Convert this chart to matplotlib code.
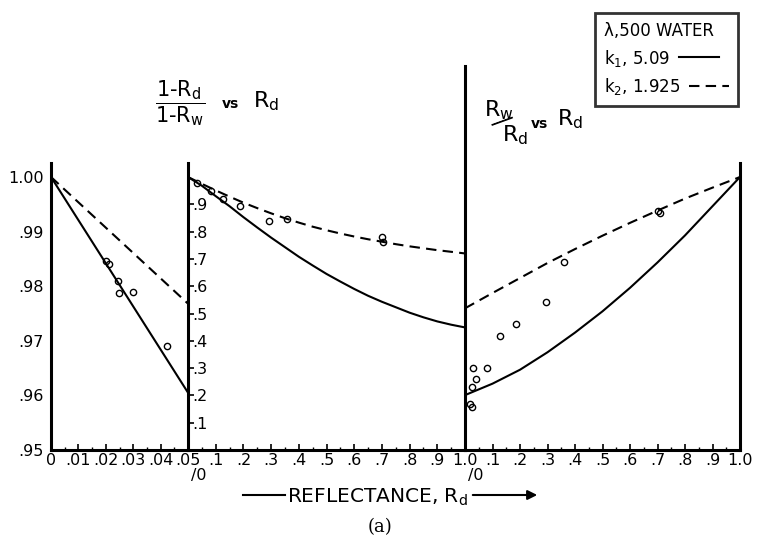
import matplotlib
matplotlib.use('Agg')
import matplotlib.pyplot as plt
from matplotlib.ticker import MultipleLocator

plt.rcParams['font.family'] = 'DejaVu Sans'
plt.rcParams['mathtext.fontset'] = 'dejavusans'

# panel 1: (1-Rd)/(1-Rw) vs Rd, small Rd
p1_x = [0.0, 0.05]
p1_k1 = [1.0, 0.9605]
p1_k2 = [1.0, 0.9768]
p1_pts_x = [0.0201, 0.0212, 0.0245, 0.0248, 0.0299, 0.0423]
p1_pts_y = [0.9846, 0.9841, 0.9810, 0.9788, 0.9789, 0.9690]

# panel 2: (1-Rd)/(1-Rw) vs Rd, full range
p2_x = [0.0, 0.05, 0.1, 0.15, 0.2, 0.25, 0.3, 0.35, 0.4, 0.45, 0.5,
        0.55, 0.6, 0.65, 0.7, 0.75, 0.8, 0.85, 0.9, 0.95, 1.0]
p2_k1 = [1.0, 0.968, 0.930, 0.893, 0.853, 0.815, 0.778, 0.743, 0.708, 0.676, 0.645,
         0.617, 0.590, 0.565, 0.543, 0.523, 0.503, 0.486, 0.471, 0.459, 0.449]
p2_k2 = [1.0, 0.975, 0.951, 0.928, 0.906, 0.886, 0.867, 0.849, 0.833, 0.818, 0.805,
         0.793, 0.782, 0.772, 0.763, 0.754, 0.746, 0.739, 0.732, 0.726, 0.720]
p2_pts_x = [0.031, 0.082, 0.128, 0.188, 0.292, 0.359, 0.699, 0.705]
p2_pts_y = [0.977, 0.949, 0.919, 0.893, 0.840, 0.846, 0.779, 0.763]

# panel 3: Rw/Rd vs Rd
p3_x = [0.0, 0.1, 0.2, 0.3, 0.4, 0.5, 0.6, 0.7, 0.8, 0.9, 1.0]
p3_k1 = [0.201, 0.243, 0.294, 0.358, 0.430, 0.508, 0.594, 0.687, 0.786, 0.893, 1.0]
p3_k2 = [0.519, 0.575, 0.630, 0.685, 0.736, 0.785, 0.832, 0.877, 0.921, 0.961, 1.0]
p3_pts_x = [0.018, 0.025, 0.024, 0.040, 0.030, 0.079, 0.127, 0.185, 0.294, 0.360, 0.703, 0.708]
p3_pts_y = [0.167, 0.159, 0.232, 0.260, 0.300, 0.300, 0.418, 0.460, 0.543, 0.690, 0.877, 0.867]

W, H = 757, 549
fig = plt.figure(figsize=(W / 100, H / 100), dpi=100)


def px_axes(left, top, right, bottom):
    return fig.add_axes([left / W, 1 - bottom / H, (right - left) / W, (bottom - top) / H])


SPINE = 2.2
LW = 1.5
DASH = (0, (5, 3))
FS = 11.5

ax1 = px_axes(51, 163, 188, 450)
ax2 = px_axes(188, 163, 465, 450)
ax3 = px_axes(465, 66, 740, 450)

ax1.set_xlim(0, 0.05)
ax1.set_ylim(0.95, 1.00256)
ax2.set_xlim(0, 1.0)
ax2.set_ylim(0, 1.0513)
ax3.set_xlim(0, 1.0)
ax3.set_ylim(0, 1.4066)

for ax in (ax1, ax2, ax3):
    ax.patch.set_visible(False)
    ax.spines['top'].set_visible(False)
    for s in ax.spines.values():
        s.set_linewidth(SPINE)
    ax.tick_params(axis='both', which='major', direction='in', length=4, width=1.2,
                   labelsize=FS)
    ax.tick_params(axis='both', which='minor', direction='in', length=2, width=1)
ax1.spines['right'].set_visible(False)
ax2.spines['right'].set_visible(False)
ax3.spines['right'].set_bounds(0, 1.0513)

# lines and points
ax1.plot(p1_x, p1_k1, color='k', lw=LW)
ax1.plot(p1_x, p1_k2, color='k', lw=LW, linestyle=DASH)
ax1.plot(p1_pts_x, p1_pts_y, 'o', mfc='none', mec='k', ms=4.5, mew=1)

ax2.plot(p2_x, p2_k1, color='k', lw=LW)
ax2.plot(p2_x, p2_k2, color='k', lw=LW, linestyle=DASH)
ax2.plot(p2_pts_x, p2_pts_y, 'o', mfc='none', mec='k', ms=4.5, mew=1)

l1, = ax3.plot(p3_x, p3_k1, color='k', lw=LW, label='$\\mathregular{k_1}$, 5.09')
l2, = ax3.plot(p3_x, p3_k2, color='k', lw=LW, linestyle=DASH, label='$\\mathregular{k_2}$, 1.925')
ax3.plot(p3_pts_x, p3_pts_y, 'o', mfc='none', mec='k', ms=4.5, mew=1)

# ticks
ax1.set_xticks([0, 0.01, 0.02, 0.03, 0.04, 0.05], ['0', '.01', '.02', '.03', '.04', '.05'])
ax1.xaxis.set_minor_locator(MultipleLocator(0.005))
ax1.set_yticks([0.95, 0.96, 0.97, 0.98, 0.99, 1.00], ['.95', '.96', '.97', '.98', '.99', '1.00'])
ax1.tick_params(axis='y', pad=5, length=0)
ax1.tick_params(axis='x', pad=2)

ticks = [0.1, 0.2, 0.3, 0.4, 0.5, 0.6, 0.7, 0.8, 0.9, 1.0]
tlabels = ['.1', '.2', '.3', '.4', '.5', '.6', '.7', '.8', '.9', '1.0']
ax2.set_xticks(ticks, tlabels)
ax2.xaxis.set_minor_locator(MultipleLocator(0.05))
ax2.set_yticks(ticks[:-1], tlabels[:-1])
ax2.tick_params(axis='y', pad=-3)
for lab in ax2.get_yticklabels():
    lab.set_ha('left')
ax2.tick_params(axis='x', pad=2)

ax3.set_xticks(ticks, tlabels)
ax3.xaxis.set_minor_locator(MultipleLocator(0.05))
ax3.set_yticks([])
ax3.tick_params(axis='x', pad=2)

for ax in (ax2, ax3):
    ax.annotate('/0', xy=(0, 0), xycoords=('data', 'axes fraction'), xytext=(2, -13),
                textcoords='offset points', ha='left', va='top', fontsize=FS)

# titles
fig.text(180 / W, 1 - 103 / H, r'$\dfrac{\mathregular{1\text{-}R_d}}{\mathregular{1\text{-}R_w}}$',
         ha='center', va='center', fontsize=15)
fig.text(230 / W, 1 - 104 / H, 'vs', ha='center', va='center', fontsize=10, weight='bold')
fig.text(266 / W, 1 - 101 / H, '$\\mathregular{R_d}$', ha='center', va='center', fontsize=16)

fig.text(499 / W, 1 - 110 / H, '$\\mathregular{R_w}$', ha='center', va='center', fontsize=16)
fig.text(502 / W, 1 - 121 / H, '\u2014', ha='center', va='center', fontsize=18, rotation=20)
fig.text(515 / W, 1 - 135 / H, '$\\mathregular{R_d}$', ha='center', va='center', fontsize=16)
fig.text(539 / W, 1 - 124 / H, 'vs', ha='center', va='center', fontsize=10, weight='bold')
fig.text(570 / W, 1 - 119 / H, '$\\mathregular{R_d}$', ha='center', va='center', fontsize=16)

# legend, text column on the left with the line samples after it
leg = ax3.legend(handles=[l1, l2], title='\u03bb,500 WATER', loc='upper right',
                 bbox_to_anchor=(738 / W, 1 - 13 / H), bbox_transform=fig.transFigure,
                 markerfirst=False, fancybox=False, fontsize=12, title_fontsize=12,
                 borderaxespad=0, borderpad=0.55, labelspacing=0.45, handlelength=2.4,
                 handleheight=1.0, handletextpad=0.5, alignment='left')
for col in leg._legend_handle_box.get_children():
    col.align = 'left'
leg.get_frame().set_edgecolor('k')
leg.get_frame().set_linewidth(2)

# axis caption
fig.text(377 / W, 1 - 497 / H, 'REFLECTANCE, $\\mathregular{R_d}$', ha='center', va='center',
         fontsize=14.5)
fig.add_artist(plt.Line2D([243 / W, 285 / W], [1 - 495 / H, 1 - 495 / H], color='k', lw=1.5))
fig.add_artist(matplotlib.patches.FancyArrowPatch((470 / W, 1 - 495 / H), (540 / W, 1 - 495 / H),
                                                  transform=fig.transFigure, arrowstyle='-|>',
                                                  mutation_scale=14, lw=1.5, color='k'))
fig.text(380 / W, 1 - 527 / H, '(a)', ha='center', va='center', fontsize=13,
         family='DejaVu Serif')

fig.savefig('out.png', dpi=100)
